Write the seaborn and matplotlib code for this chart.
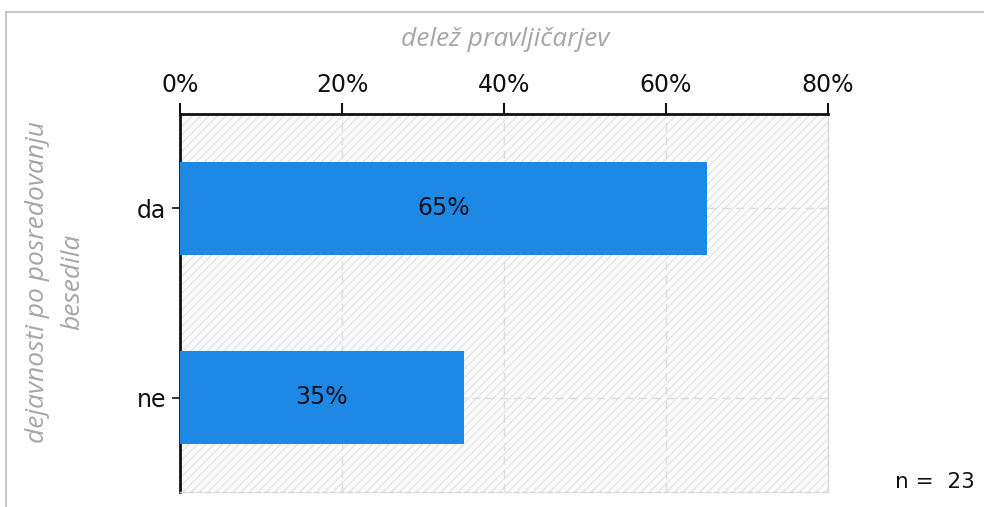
import pandas as pd
import matplotlib.pyplot as plt
import seaborn as sns
from matplotlib.patches import Rectangle

# Share of storytellers, by answer
answers = ["da", "ne"]
shares = [65, 35]
x_ticks = [0, 20, 40, 60, 80]
n_total = 23

BAR_COLOR = "#1e88e5"
LABEL_GRAY = "#a6a6a6"

df = pd.DataFrame({"answer": answers, "share": shares})

sns.set_style("white")
plt.rcParams["font.family"] = ["DejaVu Sans"]
plt.rcParams["hatch.linewidth"] = 0.8
plt.rcParams["hatch.color"] = "#e2e2e2"

fig = plt.figure(figsize=(9.84, 5.07), dpi=100)
ax = fig.add_axes([180 / 984, 1 - 492 / 507, 648 / 984, 378 / 507])

# hatched light background behind the plot
ax.set_facecolor("#fafafa")
ax.add_patch(Rectangle((0, 0), 1, 1, transform=ax.transAxes, facecolor="#fafafa",
                       edgecolor="#e2e2e2", hatch="////", linewidth=0, zorder=0))

sns.barplot(data=df, x="share", y="answer", orient="h", color=BAR_COLOR,
            saturation=1, width=0.49, linewidth=0, ax=ax, zorder=3)

for i, v in enumerate(shares):
    ax.text(v / 2, i, f"{v}%", ha="center", va="center", fontsize=17, color="#111122", zorder=4)

ax.set_xlim(0, 80)
ax.set_ylim(1.5, -0.5)
ax.set_xticks(x_ticks)
ax.set_xticklabels([f"{t}%" for t in x_ticks])
ax.xaxis.tick_top()
ax.tick_params(axis="x", which="both", top=True, bottom=False, length=8, width=1.5,
               direction="out", labelsize=17, colors="#111111", pad=4)
ax.tick_params(axis="y", left=True, length=6, width=1.2, labelsize=17, colors="#111111", pad=4)
ax.set_xlabel("")
ax.set_ylabel("")

ax.grid(True, color="#dddddd", linestyle=(0, (6, 4)), linewidth=1, zorder=1)
ax.set_axisbelow(True)

for side in ["top", "left"]:
    ax.spines[side].set_color("#111111")
    ax.spines[side].set_linewidth(2)
ax.spines["right"].set_color("#d8d8d8")
ax.spines["right"].set_linewidth(1)
ax.spines["bottom"].set_color("#d8d8d8")
ax.spines["bottom"].set_linestyle((0, (4, 2)))
ax.spines["bottom"].set_linewidth(1)

fig.text(505 / 984, 1 - 39 / 507, "delež pravljičarjev", ha="center", va="center",
         fontsize=19, style="italic", color=LABEL_GRAY, family=["Open Sans", "DejaVu Sans"])
fig.text(55 / 984, 1 - 282 / 507, "dejavnosti po posredovanju\nbesedila", ha="center",
         va="center", rotation=90, fontsize=19, style="italic", color=LABEL_GRAY,
         family=["Open Sans", "DejaVu Sans"], multialignment="center", linespacing=1.5)
fig.text(975 / 984, 1 - 482 / 507, f"n =  {n_total}", ha="right", va="center",
         fontsize=15.5, color="#111111")

# outer frame of the original screenshot
fig.patches.append(Rectangle((6 / 984, -0.05), 1.1, 1 - 12 / 507 + 0.05, transform=fig.transFigure,
                             fill=False, edgecolor="#c8c8c8", linewidth=1.5))

fig.savefig("out.png", dpi=100)
